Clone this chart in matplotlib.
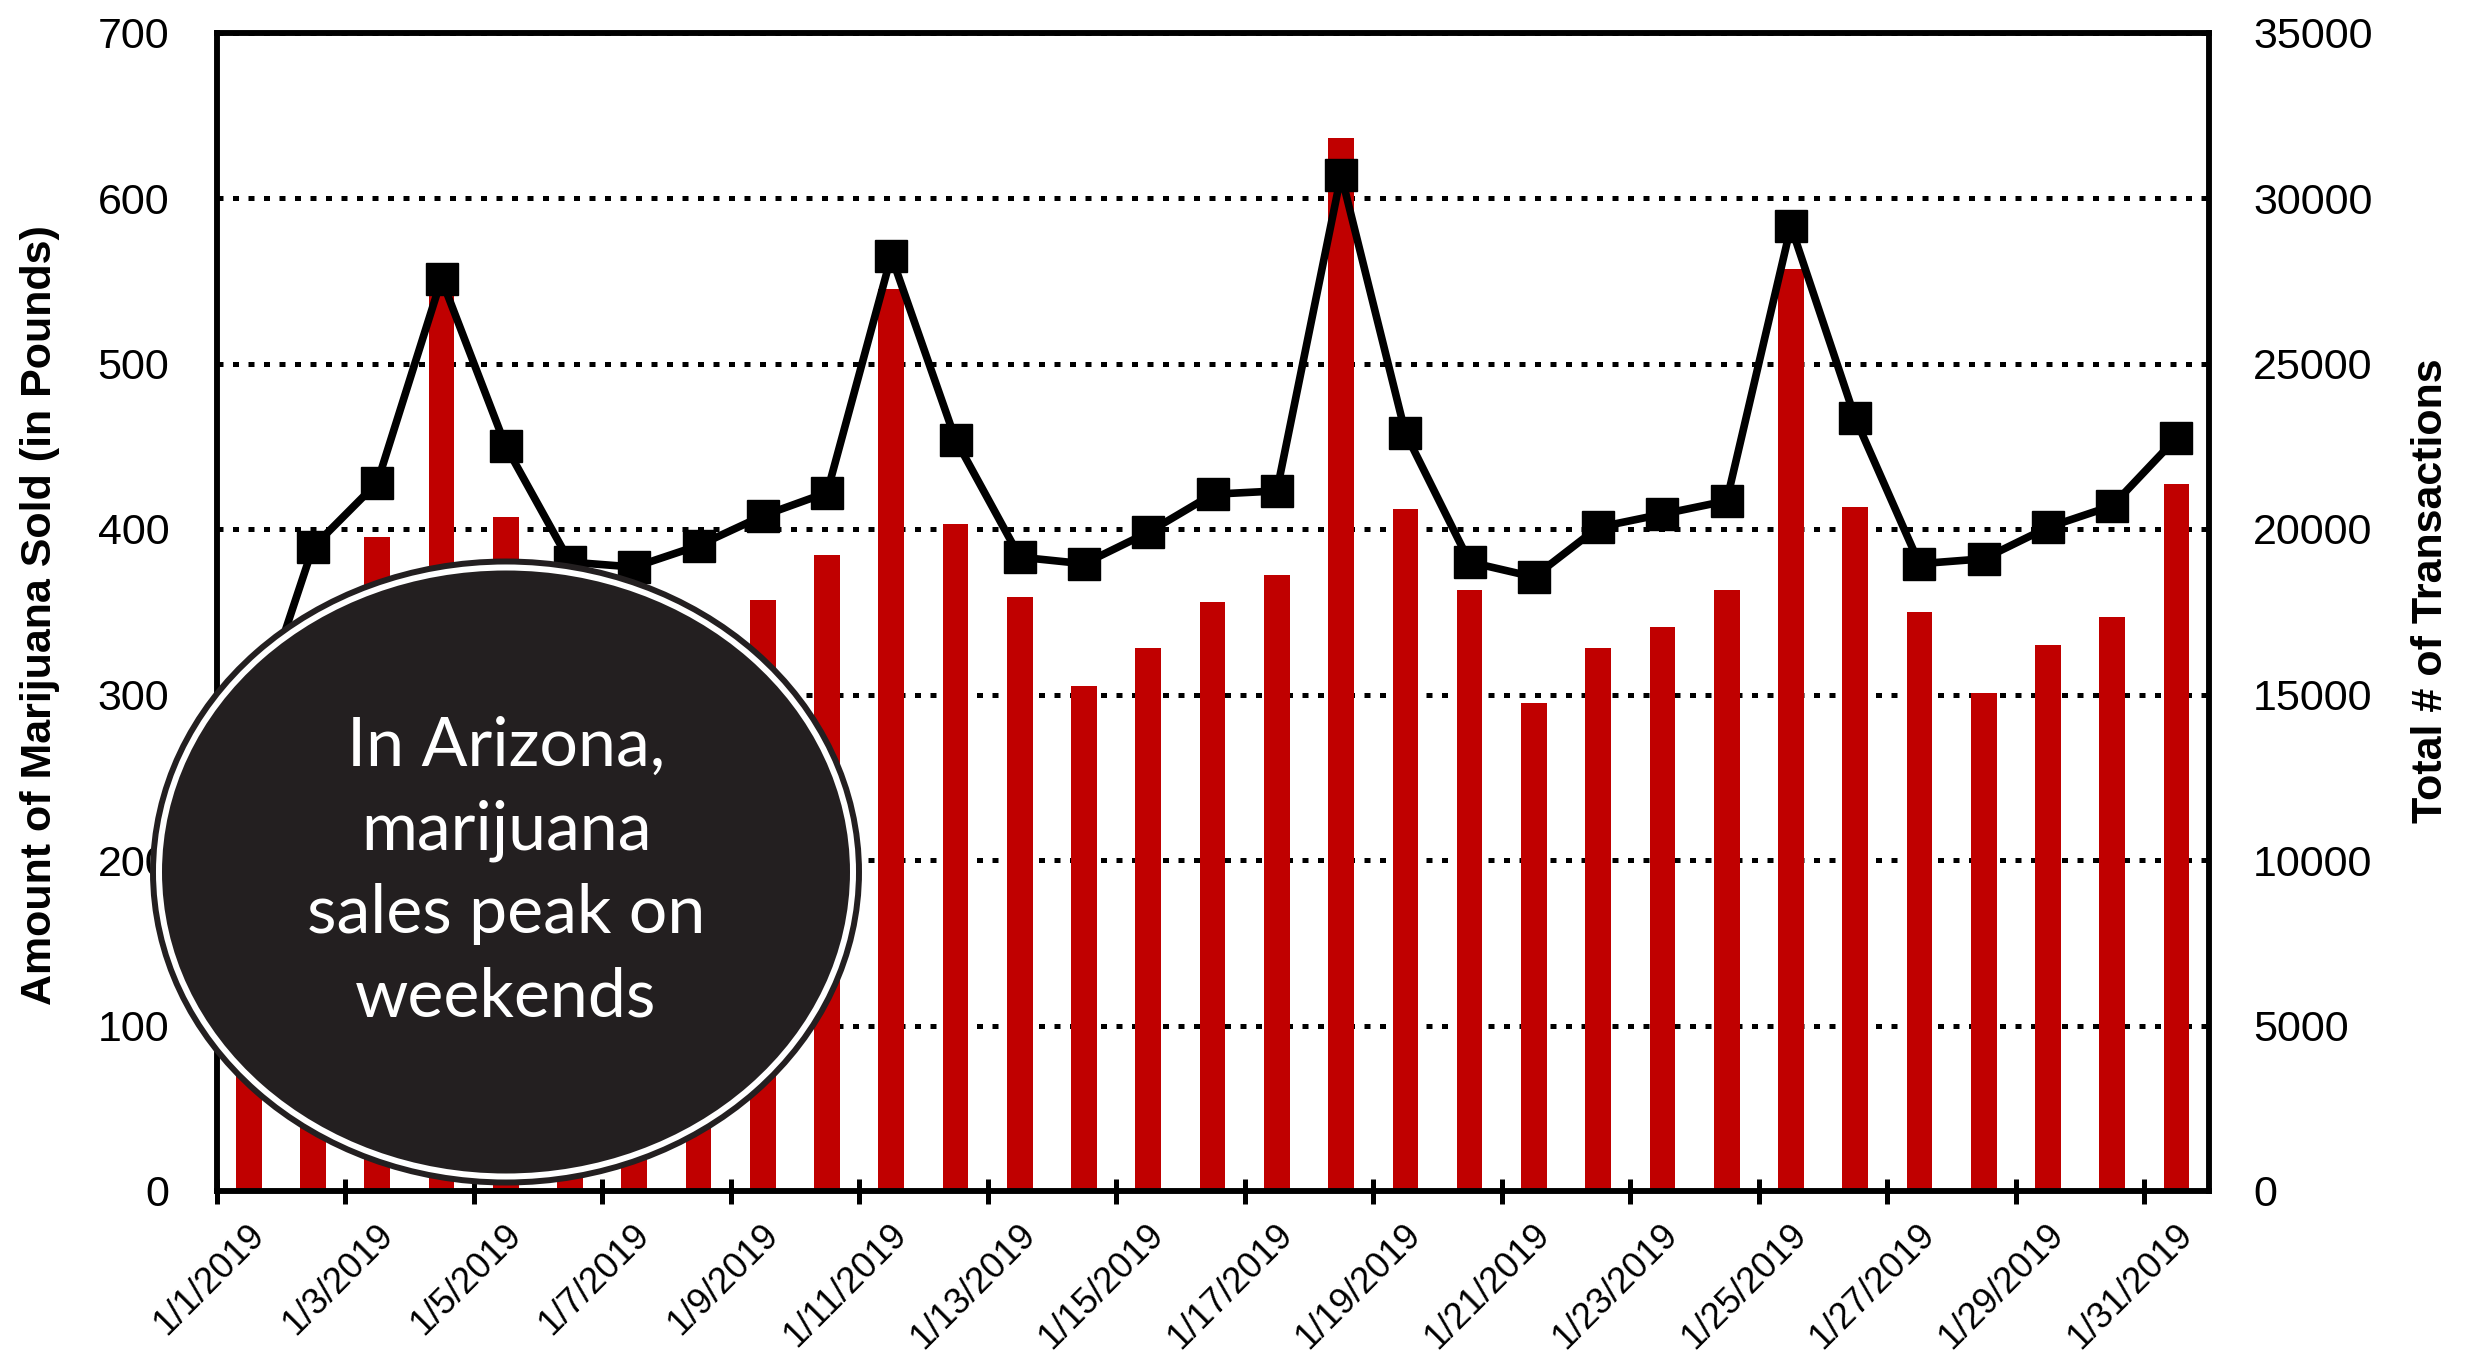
import numpy as np
import matplotlib
matplotlib.use("Agg")
import matplotlib.pyplot as plt
from matplotlib.patches import Ellipse
from matplotlib.transforms import ScaledTranslation

# ---------------- data ----------------
dates = ["1/1/2019", "1/2/2019", "1/3/2019", "1/4/2019", "1/5/2019", "1/6/2019",
         "1/7/2019", "1/8/2019", "1/9/2019", "1/10/2019", "1/11/2019", "1/12/2019",
         "1/13/2019", "1/14/2019", "1/15/2019", "1/16/2019", "1/17/2019", "1/18/2019",
         "1/19/2019", "1/20/2019", "1/21/2019", "1/22/2019", "1/23/2019", "1/24/2019",
         "1/25/2019", "1/26/2019", "1/27/2019", "1/28/2019", "1/29/2019", "1/30/2019",
         "1/31/2019"]
pounds_sold = [255, 335, 395, 543, 407, 345, 300, 320, 357, 384, 545, 403,
               359, 305, 328, 356, 372, 636, 412, 363, 295, 328, 341, 363,
               557, 413, 350, 301, 330, 347, 427]
transactions = [13600, 19450, 21400, 27550, 22500, 19000, 18850, 19500, 20400, 21100,
                28250, 22700, 19150, 18950, 19900, 21050, 21150, 30700, 22900, 19000,
                18550, 20050, 20450, 20850, 29150, 23350, 18950, 19100, 20050, 20700,
                22750]
tick_labels = ["1/1/2019", "1/3/2019", "1/5/2019", "1/7/2019", "1/9/2019", "1/11/2019",
               "1/13/2019", "1/15/2019", "1/17/2019", "1/19/2019", "1/21/2019",
               "1/23/2019", "1/25/2019", "1/27/2019", "1/29/2019", "1/31/2019"]
left_ticks = [0, 100, 200, 300, 400, 500, 600, 700]
right_ticks = [0, 5000, 10000, 15000, 20000, 25000, 30000, 35000]
left_title = "Amount of Marijuana Sold (in Pounds)"
right_title = "Total # of Transactions"
callout = "In Arizona,\nmarijuana\nsales peak on\nweekends"

# ---------------- style ----------------
plt.rcParams["font.family"] = ["Liberation Sans Narrow", "Liberation Sans", "DejaVu Sans"]
BAR_RED = "#C00000"
DARK = "#231F20"

W, H = 2479, 1355
fig = plt.figure(figsize=(W / 100, H / 100), dpi=100)
ax = fig.add_axes([216.6 / W, 1 - 1191 / H, (2208.6 - 216.6) / W, (1191 - 32.5) / H])

n = len(dates)
day_index = np.arange(n)
bar_x = day_index + 0.5

ax.bar(bar_x, pounds_sold, width=0.40, color=BAR_RED, zorder=2)
ax.set_xlim(0, n)
ax.set_ylim(left_ticks[0], left_ticks[-1])
ax.set_yticks(left_ticks)
ax.set_axisbelow(True)
ax.yaxis.grid(True, color="black", linestyle=(0, (1.2, 1.9)), linewidth=3.6)

ax.set_xticks(day_index[::2])
ax.set_xticklabels(tick_labels, rotation=45, ha="right", va="top", rotation_mode="anchor")
ax.tick_params(axis="x", direction="inout", length=18, width=3.6, pad=10, labelsize=26)
ax.tick_params(axis="y", length=0, pad=34, labelsize=31)
offset = ScaledTranslation(0.30, 0, fig.dpi_scale_trans)
for lab in ax.get_xticklabels():
    lab.set_transform(lab.get_transform() + offset)

for sp in ax.spines.values():
    sp.set_linewidth(4)
    sp.set_color("black")

ax2 = ax.twinx()
ax2.plot(bar_x, transactions, color="black", linewidth=5.5, marker="s",
         markersize=23, markerfacecolor="black", markeredgecolor="black", zorder=3)
ax2.set_ylim(right_ticks[0], right_ticks[-1])
ax2.set_yticks(right_ticks)
ax2.tick_params(axis="y", length=0, pad=32, labelsize=31)
for sp in ax2.spines.values():
    sp.set_linewidth(4)
    sp.set_color("black")

ax.set_ylabel(left_title, fontsize=31, fontweight="bold", va="center")
ax.yaxis.set_label_coords(-0.0887, 0.497)
ax2.set_ylabel(right_title, fontsize=31, fontweight="bold", va="center", rotation=90)
ax2.yaxis.set_label_coords(1.1117, 0.518)

# ---------------- callout circle ----------------
cx, cy = 506 / W, 1 - 872 / H
outer = Ellipse((cx, cy), (712 - 6) / W, (627 - 6) / H, transform=fig.transFigure,
                facecolor="white", edgecolor=DARK, linewidth=4.3, zorder=10)
inner = Ellipse((cx, cy), (712 - 24) / W, (627 - 24) / H, transform=fig.transFigure,
                facecolor=DARK, edgecolor="none", zorder=11)
fig.add_artist(outer)
fig.add_artist(inner)
fig.text(cx, cy, callout, ha="center", va="center", color="white", fontsize=49,
         family=["Lato", "DejaVu Sans"], linespacing=1.43, zorder=12)

fig.savefig("out.png", dpi=100)
